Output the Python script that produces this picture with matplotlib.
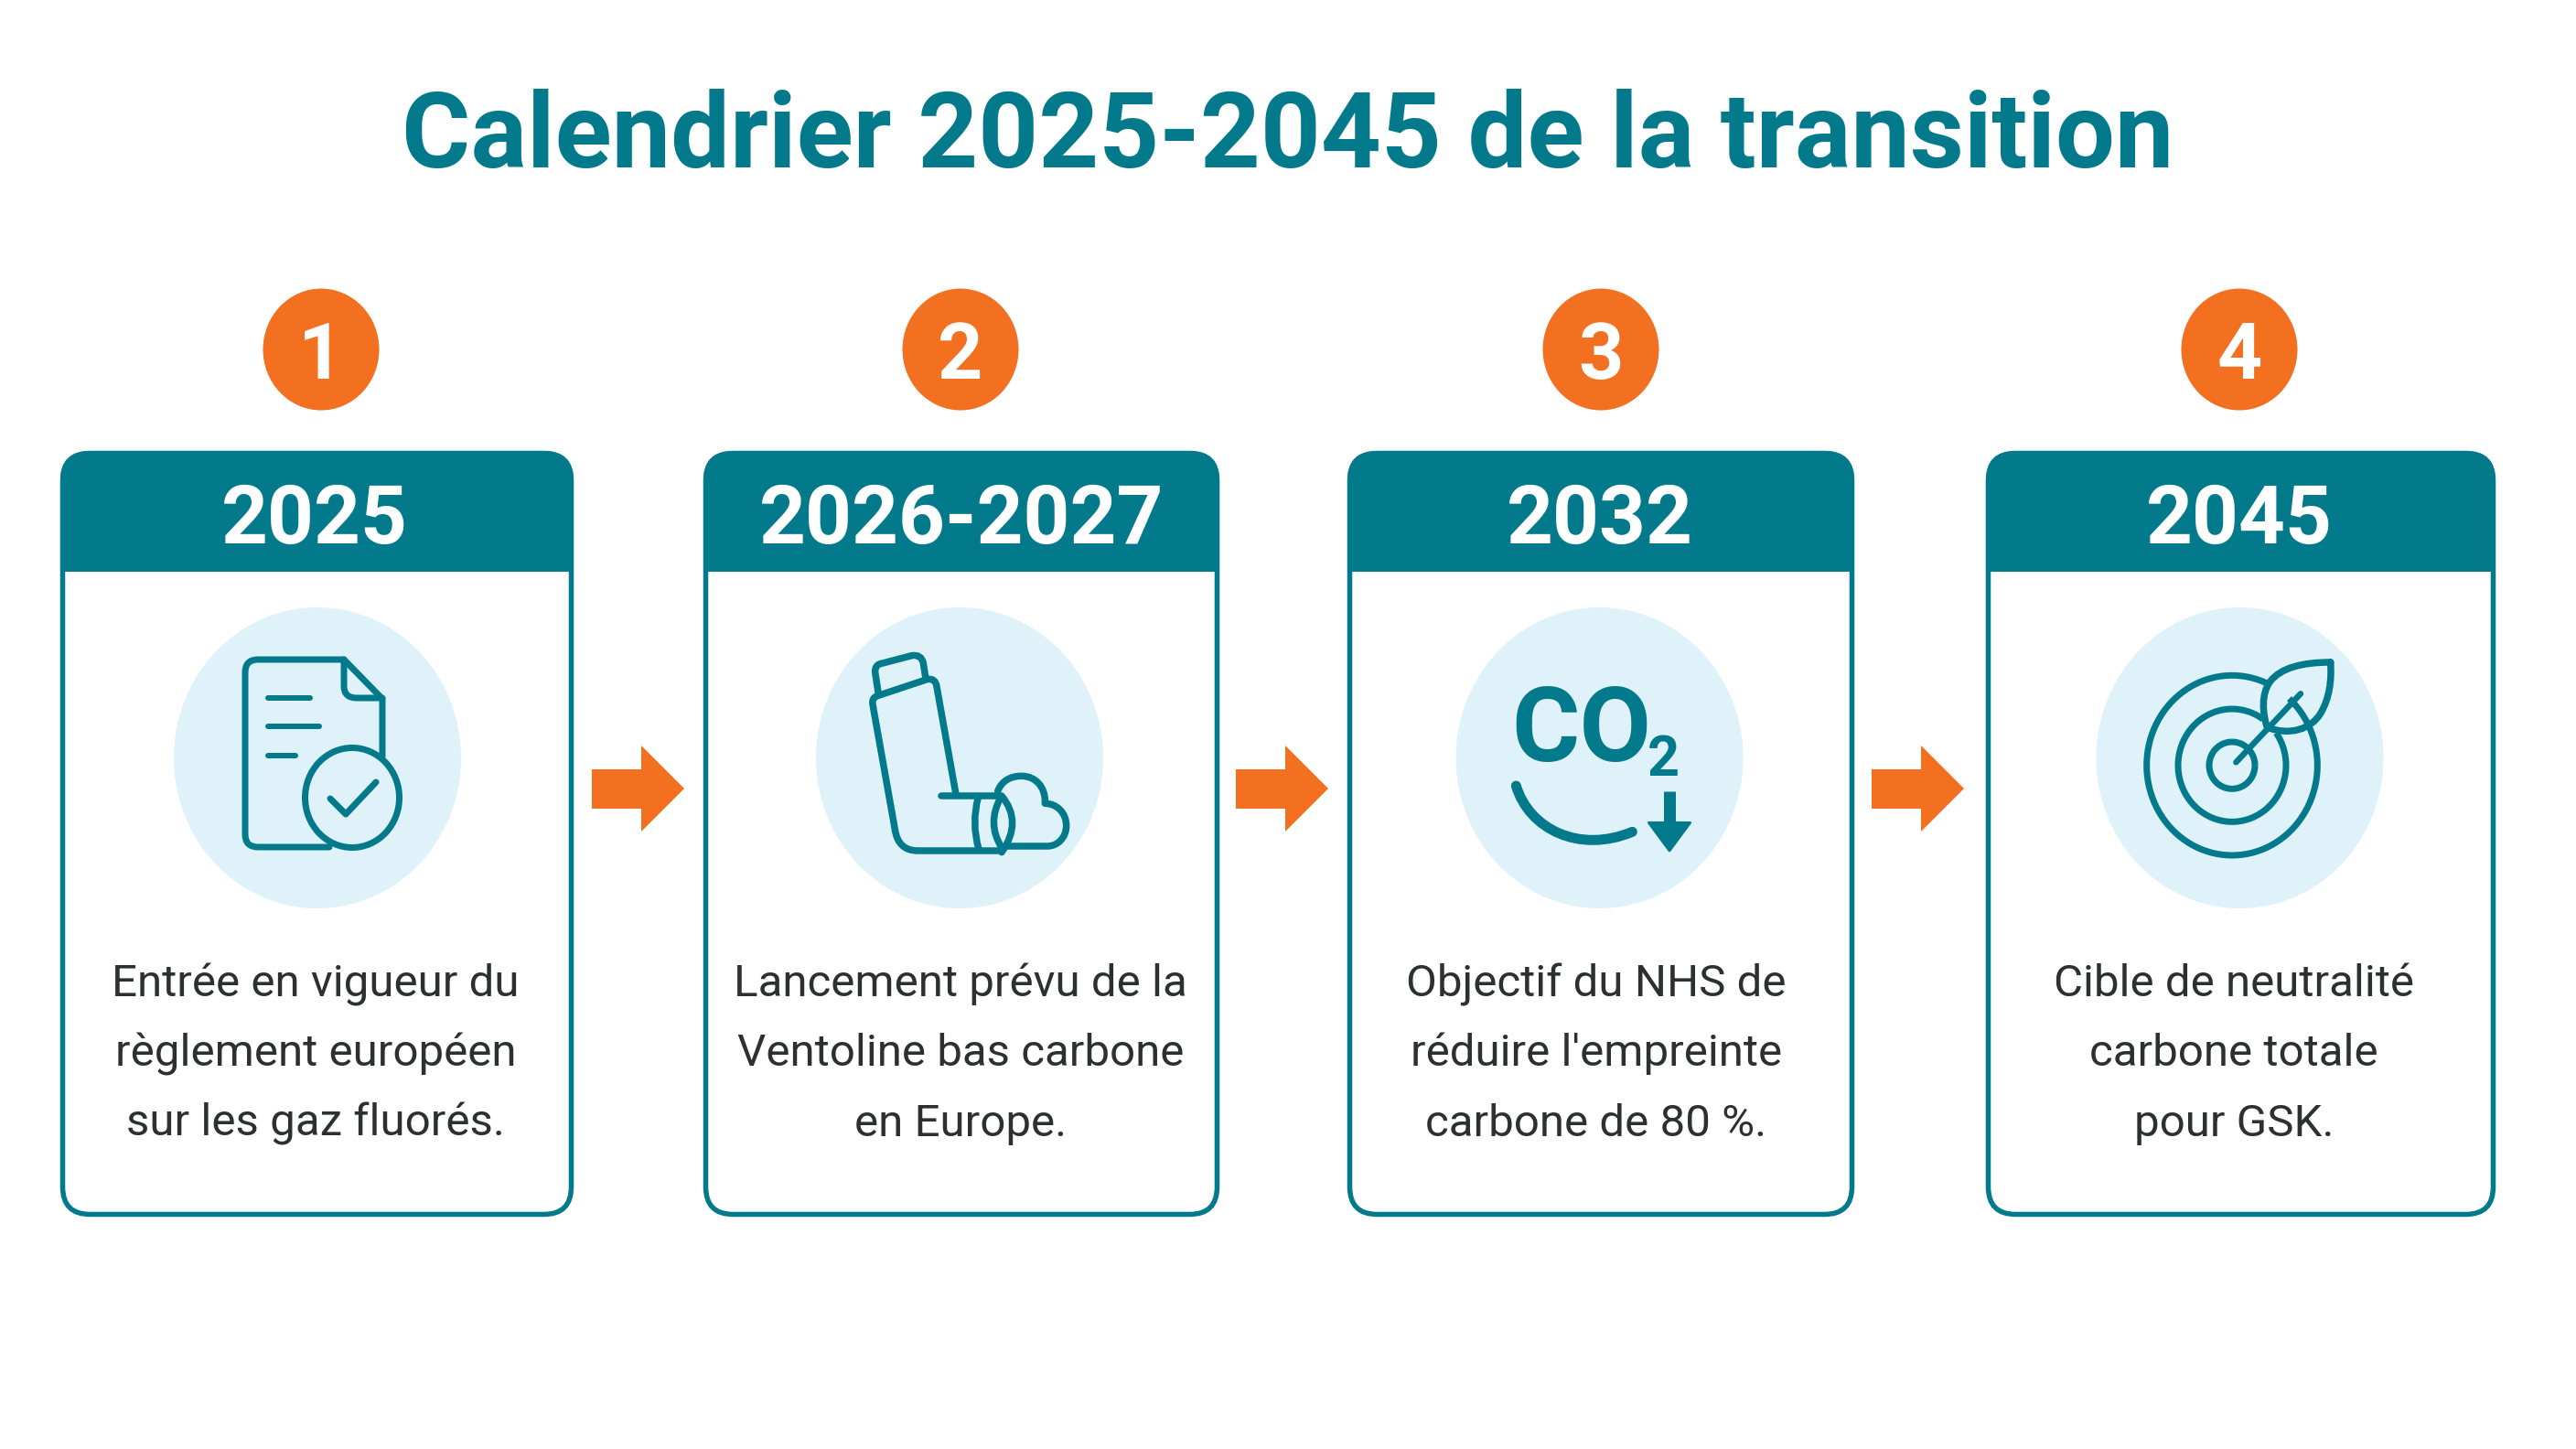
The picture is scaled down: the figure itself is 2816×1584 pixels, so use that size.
import numpy as np
import matplotlib
matplotlib.use("Agg")
import matplotlib.pyplot as plt
from matplotlib.patches import FancyBboxPatch, Ellipse, PathPatch, Polygon
from matplotlib.path import Path

TITLE = "Calendrier 2025-2045 de la transition"
STEPS = ["1", "2", "3", "4"]
YEARS = ["2025", "2026-2027", "2032", "2045"]
DESCRIPTIONS = [
    ["Entrée en vigueur du", "règlement européen", "sur les gaz fluorés."],
    ["Lancement prévu de la", "Ventoline bas carbone", "en Europe."],
    ["Objectif du NHS de", "réduire l'empreinte", "carbone de 80 %."],
    ["Cible de neutralité", "carbone totale", "pour GSK."],
]

TEAL = "#037A8B"
ORANGE = "#F37021"
PALE = "#DFF1F9"
INK = "#2D2F31"
FONT = "Roboto"

fig = plt.figure(figsize=(28.16, 15.84), dpi=100, facecolor="white")
ax = fig.add_axes([0, 0, 1, 1])
ax.set_xlim(0, 2816)
ax.set_ylim(1584, 0)
ax.axis("off")
PT = 0.72


def stroke(verts, codes=None, lw=7.5, color=TEAL, fill="none", z=5, cap="round"):
    if codes is None:
        codes = [Path.MOVETO] + [Path.LINETO] * (len(verts) - 1)
    ax.add_patch(PathPatch(Path(verts, codes), fc=fill, ec=color, lw=lw * PT,
                           capstyle=cap, joinstyle="round", zorder=z))


def top_rounded(x0, x1, y0, y1, r):
    M, L, C = Path.MOVETO, Path.LINETO, Path.CURVE3
    verts = [(x0, y1), (x0, y0 + r), (x0, y0), (x0 + r, y0), (x1 - r, y0),
             (x1, y0), (x1, y0 + r), (x1, y1), (x0, y1)]
    return Path(verts, [M, L, C, C, L, C, C, L, L])


lefts = [66, 769, 1473, 2171]
rights = [627, 1333, 2027, 2728]
badge_x = [351, 1050, 1750, 2448]
disc_x = [347, 1049, 1748.5, 2448.5]
year_x = [344, 1051, 1749, 2448]
text_x = [345, 1050, 1745, 2442]
arrow_x = [647, 1351, 2046]
TOP, HDR, BOT = 493, 625, 1330

ax.text(1408, 183, TITLE, ha="center", va="baseline", color=TEAL,
        fontsize=82.8, fontweight="bold", family=FONT)

for i in range(4):
    l, r = lefts[i], rights[i]
    ax.add_patch(FancyBboxPatch((l + 2.5, TOP + 2.5), r - l - 5, BOT - TOP - 5,
                                boxstyle="round,pad=0,rounding_size=30",
                                fc="white", ec=TEAL, lw=5.5 * PT, zorder=2))
    ax.add_patch(PathPatch(top_rounded(l, r, TOP, HDR, 32), fc=TEAL, ec="none", zorder=3))
    ax.add_patch(Ellipse((badge_x[i], 382), 127, 133, fc=ORANGE, ec="none", zorder=3))
    ax.text(badge_x[i], 414, STEPS[i], ha="center", va="baseline", color="white",
            fontsize=62, fontweight="bold", family=FONT, zorder=4)
    ax.text(year_x[i], 594, YEARS[i], ha="center", va="baseline", color="white",
            fontsize=64, fontweight="bold", family=FONT, zorder=4)
    ax.add_patch(Ellipse((disc_x[i], 828.5), 314, 329, fc=PALE, ec="none", zorder=3))
    for line, base in zip(DESCRIPTIONS[i], [1089, 1165, 1242]):
        ax.text(text_x[i], base, line, ha="center", va="baseline", color=INK,
                fontsize=35.5, family=FONT, zorder=4)

for a in arrow_x:
    ax.add_patch(Polygon([(a, 841), (a + 54, 841), (a + 54, 815), (a + 101, 862),
                          (a + 54, 909), (a + 54, 884), (a, 884)], closed=True,
                         fc=ORANGE, ec="none", zorder=3))

M, L, Q, C = Path.MOVETO, Path.LINETO, Path.CURVE3, Path.CURVE4

# document icon
stroke([(360, 926), (282, 926), (268, 926), (268, 912), (268, 735), (268, 721), (282, 721),
        (376, 721), (418, 764), (418, 827)],
       [M, L, Q, Q, L, Q, Q, L, L, L], lw=7)
stroke([(376, 721), (376, 750), (376, 763), (390, 763), (418, 763)], [M, L, Q, Q, L], lw=7)
stroke([(293, 763), (339, 763)], lw=6)
stroke([(293, 794), (349, 794)], lw=6)
stroke([(293, 826), (323, 826)], lw=6)
ax.add_patch(Ellipse((385, 872), 103, 109, fc="none", ec=TEAL, lw=7 * PT, zorder=5))
stroke([(361, 873), (378, 890), (411, 855)], lw=7)


def inh(pts):
    return [(800 + x / 3, 620 + y / 3) for x, y in pts]


# inhaler icon
stroke(inh([(735, 745), (672, 392), (668, 362), (640, 368), (478, 422), (458, 428), (462, 450),
            (535, 860), (545, 930), (610, 930), (885, 930)]),
       [M, L, Q, Q, L, Q, Q, L, Q, Q, L])
stroke(inh([(480, 410), (470, 345), (468, 318), (495, 315), (590, 290), (622, 285), (628, 315), (635, 360)]),
       [M, L, Q, Q, L, Q, Q, L])
stroke(inh([(688, 750), (880, 750)]))
stroke(inh([(808, 755), (785, 840), (810, 925)]), [M, Q, Q])
stroke(inh([(882, 755), (835, 840), (885, 920)]), [M, Q, Q])
stroke(inh([(885, 750), (955, 835), (885, 935)]), [M, Q, Q])
stroke(inh([(872, 735), (885, 700), (915, 685), (950, 685), (995, 685), (1030, 720), (1027, 775),
            (1065, 775), (1097, 805), (1097, 848), (1097, 885), (1070, 915), (1035, 915), (905, 915)]),
       [M, C, C, C, C, C, C, C, C, C, C, C, C, L])


def co(pts):
    return [(1550 + x / 3, 620 + y / 3) for x, y in pts]


# CO2 icon
ax.text(1652, 832, "CO", ha="left", va="baseline", color=TEAL, fontsize=82,
        fontweight="bold", family=FONT, zorder=5)
ax.text(1801, 848, "2", ha="left", va="baseline", color=TEAL, fontsize=44,
        fontweight="bold", family=FONT, zorder=5)
stroke(co([(322, 717), (365, 860), (530, 940), (703, 868)]), [M, C, C, C], lw=11)
stroke(co([(825, 735), (825, 845)]), lw=13, cap="butt")
ax.add_patch(Polygon(co([(757, 838), (893, 838), (825, 930)]), closed=True, fc=TEAL,
                     ec=TEAL, lw=2, joinstyle="round", zorder=5))


def tg(pts):
    return [(2250 + x / 3, 620 + y / 3) for x, y in pts]


def ring(cx, cy, rx, ry, a0=0, a1=360, lw=7):
    t = np.radians(np.linspace(a0, a1, 200))
    ax.plot(2250 + (cx + rx * np.cos(t)) / 3, 620 + (cy + ry * np.sin(t)) / 3,
            color=TEAL, lw=lw * PT, zorder=5, solid_capstyle="butt")


# target icon
ring(570, 650, 280, 295, -48, 295)
ring(570, 650, 177, 185, -35, 305)
ring(570, 650, 75, 77)
stroke(tg([(893, 312), (800, 312), (730, 330), (695, 375), (665, 415), (670, 480), (685, 525),
           (760, 555), (830, 530), (860, 480), (890, 430), (897, 370), (893, 312)]),
       [M, C, C, C, C, C, C, C, C, C, C, C, C], lw=7.5)
stroke(tg([(583, 640), (795, 415)]), lw=6.5)

fig.savefig("out.png", dpi=100, facecolor="white")
